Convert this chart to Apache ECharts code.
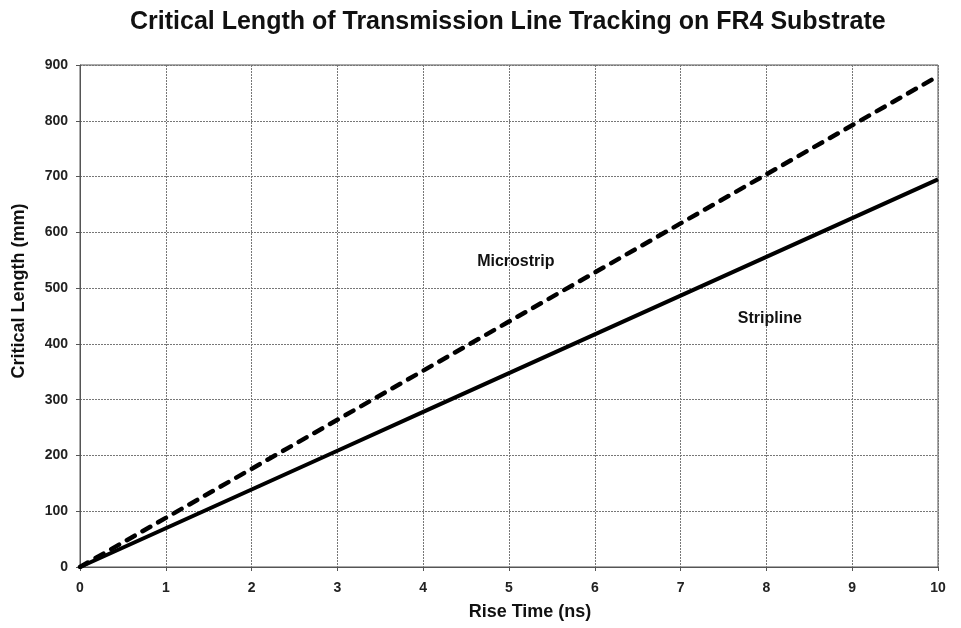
<!DOCTYPE html>
<html><head><meta charset="utf-8">
<script src="https://cdn.jsdelivr.net/npm/echarts@6/dist/echarts.min.js"></script>
<style>html,body{margin:0;padding:0;background:#fff}#c{width:961px;height:628px}</style>
</head><body><div id="c"></div>
<script>
var riseTime = [0,1,2,3,4,5,6,7,8,9,10];
var microstrip = [0,88,176,264,352,440,528,616,704,792,880];
var stripline = [0,69.5,139,208.5,278,347.5,417,486.5,556,625.5,695];
var labelMicro = {name:'Microstrip', x:5.08, y:547};
var labelStrip = {name:'Stripline', x:8.04, y:446};
var xAxisTitle = 'Rise Time (ns)';
var yAxisTitle = 'Critical Length (mm)';

var chart = echarts.init(document.getElementById('c'));
var font = 'Arial, "Liberation Sans", sans-serif';
function pairs(xs, ys){ return xs.map(function(x,i){return [x, ys[i]];}); }
chart.setOption({
  backgroundColor:'#fff',
  animation:false,
  title:{text:'Critical Length of Transmission Line Tracking on FR4 Substrate', left:125, top:5,
    textStyle:{fontFamily:font, fontSize:25, fontWeight:'bold', color:'#111'}},
  grid:{left:80, right:23, top:65, bottom:61},
  xAxis:{type:'value', min:0, max:10, interval:1,
    axisLine:{show:true, lineStyle:{color:'#555', width:1}},
    axisTick:{show:true, length:4, lineStyle:{color:'#555'}},
    axisLabel:{fontFamily:font, fontSize:14, fontWeight:'bold', color:'#222', margin:14},
    splitLine:{show:true, lineStyle:{color:'#777', width:1, type:[2,1]}}},
  yAxis:{type:'value', min:0, max:900, interval:100,
    axisLine:{show:true, lineStyle:{color:'#555', width:1}},
    axisTick:{show:true, length:4, lineStyle:{color:'#555'}},
    axisLabel:{fontFamily:font, fontSize:14, fontWeight:'bold', color:'#222', margin:12},
    splitLine:{show:true, lineStyle:{color:'#777', width:1, type:[2,1]}}},
  series:[
    {name:'Microstrip', type:'line', data:pairs(riseTime, microstrip), symbol:'none',
     lineStyle:{color:'#000', width:4.5, type:[9,9], cap:'round'},
     markPoint:{symbol:'rect', symbolSize:1, itemStyle:{color:'rgba(0,0,0,0)'},
       label:{show:true, formatter:'{b}', position:'inside', fontFamily:font, fontSize:16, fontWeight:'bold', color:'#111'},
       data:[{name:labelMicro.name, coord:[labelMicro.x, labelMicro.y]}]}},
    {name:'Stripline', type:'line', data:pairs(riseTime, stripline), symbol:'none',
     lineStyle:{color:'#000', width:4},
     markPoint:{symbol:'rect', symbolSize:1, itemStyle:{color:'rgba(0,0,0,0)'},
       label:{show:true, formatter:'{b}', position:'inside', fontFamily:font, fontSize:16, fontWeight:'bold', color:'#111'},
       data:[{name:labelStrip.name, coord:[labelStrip.x, labelStrip.y]}]}}
  ],
  graphic:[
    {type:'rect', shape:{x:80, y:65, width:858, height:502}, style:{fill:'none', stroke:'#555', lineWidth:1}, silent:true},
    {type:'text', x:530, y:612, style:{text:xAxisTitle, font:'bold 18px Arial, "Liberation Sans", sans-serif', fill:'#111', textAlign:'center', textVerticalAlign:'middle'}, silent:true},
    {type:'text', x:19, y:291, rotation:Math.PI/2, style:{text:yAxisTitle, font:'bold 18px Arial, "Liberation Sans", sans-serif', fill:'#111', textAlign:'center', textVerticalAlign:'middle'}, silent:true}
  ]
});
</script></body></html>
